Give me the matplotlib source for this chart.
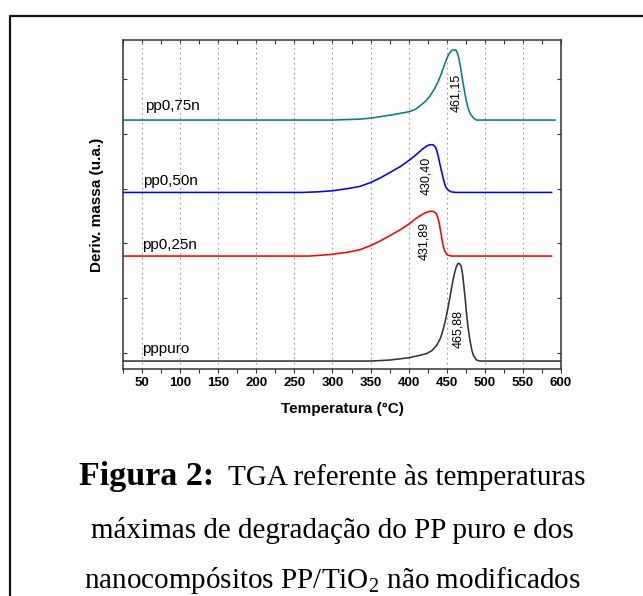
import matplotlib
matplotlib.use("Agg")
import matplotlib.pyplot as plt
from matplotlib.lines import Line2D
from matplotlib.ticker import MultipleLocator

plt.rcParams['font.family'] = ['Liberation Sans', 'DejaVu Sans']
plt.rcParams['mathtext.fontset'] = 'custom'
plt.rcParams['mathtext.rm'] = 'Liberation Serif'
plt.rcParams['mathtext.bf'] = 'Liberation Serif:bold'

# ---- data ----
pppuro_T = [25, 300, 350, 375, 400, 415, 424, 431, 437, 442, 445, 448, 451, 454, 456.5, 459,
            461, 463, 465, 467, 469, 471, 472.6, 474.5, 476, 478, 480.4, 483, 485, 489, 494, 600]
pppuro_y = [-0.145, -0.145, -0.145, -0.127, -0.085, -0.04, -0.006, 0.05, 0.145, 0.28, 0.418,
            0.58, 0.78, 1.0, 1.2, 1.38, 1.50, 1.59, 1.635, 1.63, 1.58, 1.42, 1.21, 0.95, 0.72,
            0.47, 0.236, 0.05, -0.04, -0.127, -0.145, -0.145]

pp025_T = [25, 270, 299, 320, 336, 350, 362, 375, 389, 400, 410, 418, 424, 428, 432, 436,
           438, 440, 442, 444, 446, 448, 451, 456, 587.6]
pp025_y = [1.77, 1.77, 1.80, 1.84, 1.885, 1.96, 2.04, 2.14, 2.25, 2.35, 2.46, 2.53, 2.57,
           2.585, 2.585, 2.55, 2.48, 2.38, 2.22, 2.05, 1.92, 1.84, 1.79, 1.77, 1.77]

pp050_T = [25, 260, 280, 300, 320, 336, 350, 362, 375, 390, 400, 410, 418, 424, 428, 432,
           435, 437, 439, 441, 443, 445, 447, 449, 452, 456, 462, 587.6]
pp050_y = [2.93, 2.93, 2.94, 2.96, 3.0, 3.04, 3.11, 3.19, 3.29, 3.41, 3.51, 3.62, 3.72,
           3.78, 3.80, 3.80, 3.76, 3.69, 3.58, 3.45, 3.33, 3.21, 3.10, 3.02, 2.97, 2.94,
           2.93, 2.93]

pp075_T = [25, 300, 336, 350, 362, 380, 400, 408, 415, 422, 428, 434, 439, 443, 446, 450,
           453, 456, 458, 460, 462, 464, 466, 468, 470, 472, 474, 476, 478, 481, 485, 489, 592]
pp075_y = [4.25, 4.25, 4.267, 4.285, 4.31, 4.35, 4.40, 4.44, 4.51, 4.59, 4.69, 4.82, 4.96,
           5.10, 5.22, 5.37, 5.46, 5.51, 5.53, 5.52, 5.53, 5.47, 5.37, 5.22, 5.05, 4.88,
           4.72, 4.58, 4.47, 4.36, 4.29, 4.25, 4.25]

series_names = ['pppuro', 'pp0,25n', 'pp0,50n', 'pp0,75n']
series_colors = ['#333333', '#ff0000', '#0000ff', '#008080']
peak_labels = ['465,88', '431,89', '430,40', '461,15']
peak_label_pos = [(465.4, 0.445), (420.0, 2.04), (422.7, 3.24), (463.0, 4.74)]
name_pos = [(50.2, 0.07), (50.2, 1.98), (51.3, 3.13), (54.0, 4.51)]

x_ticks = [50, 100, 150, 200, 250, 300, 350, 400, 450, 500, 550, 600]
y_ticks = [0, 1, 2, 3, 4, 5]

caption_bold = 'Figura 2:'
caption_line1 = 'TGA referente às temperaturas'
caption_lines = ['máximas de degradação do PP puro e dos',
                 r'nanocompósitos PP/TiO$_2$ não modificados']

# ---- figure ----
W, H = 643, 596
fig = plt.figure(figsize=(W / 100, H / 100), dpi=100)
ax = fig.add_axes([123 / W, 1 - 369 / H, (561 - 123) / W, (369 - 40) / H])

series = [(pppuro_T, pppuro_y), (pp025_T, pp025_y), (pp050_T, pp050_y), (pp075_T, pp075_y)]
for (T, y), c in zip(series, series_colors):
    ax.plot(T, y, color=c, lw=1.15, solid_joinstyle='round')

for name, (tx, ty) in zip(series_names, name_pos):
    ax.text(tx, ty, name, fontsize=11, ha='left', va='center', color='black')
for lab, (tx, ty) in zip(peak_labels, peak_label_pos):
    ax.text(tx, ty, lab, fontsize=9, rotation=90, ha='center', va='center', color='black')

ax.set_xlim(25, 600)
ax.set_ylim(-0.29, 5.71)
ax.set_xticks(x_ticks)
ax.xaxis.set_minor_locator(MultipleLocator(25))
ax.set_yticks(y_ticks)
ax.set_yticklabels([])
ax.grid(axis='x', which='major', linestyle=(0, (1.5, 3)), color='#999999', lw=0.8)
ax.set_axisbelow(True)

ax.tick_params(axis='x', which='both', direction='out', bottom=True, top=False,
               length=3, width=0.8, color='#333333', labelsize=9.5, pad=3)
ax.tick_params(axis='y', which='both', direction='in', left=True, right=True,
               length=3, width=0.8, color='#333333')
for lbl in ax.get_xticklabels():
    lbl.set_fontweight('bold')

sec = ax.secondary_xaxis('top')
sec.set_xticks(x_ticks)
sec.xaxis.set_minor_locator(MultipleLocator(25))
sec.tick_params(axis='x', which='both', direction='in', length=3, width=0.8,
                color='#333333', labeltop=False)
sec.spines['top'].set_visible(False)

for s in ax.spines.values():
    s.set_linewidth(1.1)
    s.set_color('#333333')

ax.set_xlabel('Temperatura (°C)', fontsize=11, fontweight='bold', labelpad=9)
ax.set_ylabel('Deriv. massa (u.a.)', fontsize=11, fontweight='bold', labelpad=10)

fig.add_artist(Line2D([10 / W, 10 / W, 1.0], [0, 1 - 16 / H, 1 - 16 / H],
                      transform=fig.transFigure, color='#111111', lw=1.6))

# caption
cap_fs = 21
cx = 332
gap = 14
renderer = fig.canvas.get_renderer()
tb = fig.text(0, 1 - 485 / H, caption_bold, fontsize=24.5, fontweight='bold',
              family='Liberation Serif', ha='left', va='baseline')
tr = fig.text(0, 1 - 485 / H, caption_line1, fontsize=cap_fs,
              family='Liberation Serif', ha='left', va='baseline')
wb = tb.get_window_extent(renderer).width
wr = tr.get_window_extent(renderer).width
x0 = cx - (wb + gap + wr) / 2
tb.set_x(x0 / W)
tr.set_x((x0 + wb + gap) / W)

for line, y in zip(caption_lines, [538, 588]):
    fig.text(cx / W, 1 - y / H, line, fontsize=cap_fs, ha='center', va='baseline',
             family='Liberation Serif')

fig.savefig('out.png', dpi=100)
